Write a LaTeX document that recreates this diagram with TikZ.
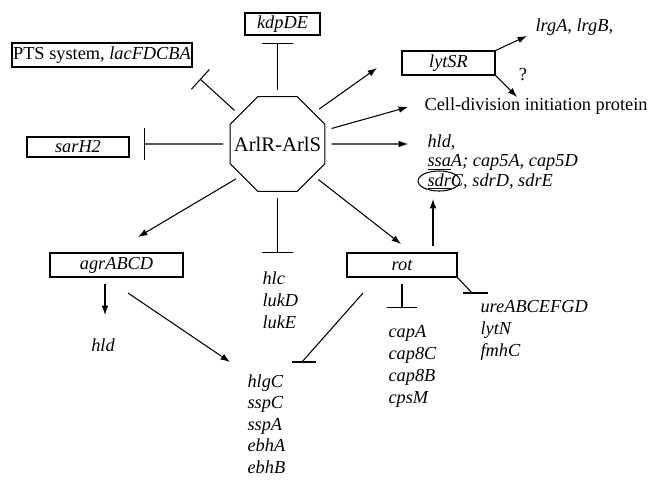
\documentclass[tikz,border=0pt]{standalone}
\usepackage{fontspec}
\setmainfont{Liberation Serif}
\usepackage{xcolor}
\definecolor{arlblack}{RGB}{0,0,0}
\usetikzlibrary{arrows.meta, shapes.geometric}

\begin{document}
\begin{tikzpicture}[x=0.75pt, y=-0.75pt, line width=0.8pt, arlblack,
    font=\fontsize{13.75}{16.5}\selectfont,
    genebox/.style={draw, inner sep=0pt, minimum height=18pt,
      font=\fontsize{13.75}{16.5}\selectfont\itshape},
    genelist/.style={anchor=west, align=left, inner sep=0pt,
      font=\fontsize{13.75}{16.5}\selectfont\itshape},
    act/.style={-{Latex[length=7pt,width=5pt]}},
    inhibit/.style={-{Bar[width=#1]}},
    inhibit/.default=23pt]
  \useasboundingbox (0,0) rectangle (648,479);

  % Central two-component system
  \node[draw, regular polygon, regular polygon sides=8, minimum size=77pt,
        inner sep=0pt, outer sep=5pt, font=\fontsize{15.5}{18}\selectfont]
        (arl) at (277.5,144) {\makebox[0pt][c]{ArlR-ArlS}};

  % Boxed targets
  \node[genebox, minimum width=56.25pt, minimum height=16.5pt] (kdp) at (282.5,24) {kdpDE};
  \node[draw, inner sep=0pt, minimum width=135pt, minimum height=18pt] (pts) at (102,55)
       {PTS system, \textit{lacFDCBA}};
  \node[genebox, minimum width=76.5pt, minimum height=15pt] (sar) at (78,147) {sarH2};
  \node[genebox, minimum width=69.75pt] (lyt) at (448.5,63) {lytSR};
  \node[genebox, minimum width=99.75pt] (agr) at (116.5,265) {agrABCD};
  \node[genebox, minimum width=82.5pt] (rot) at (402,265) {rot};

  % Gene lists
  \node[genelist] (lrg) at (535,27) {lrgA, lrgB,};
  \node[inner sep=0pt] (qm) at (523,75) {?};
  \node[anchor=west, inner sep=0pt] (cell) at (424,106) {Cell-division initiation protein};
  \node[genelist, font=\fontsize{13.75}{14.6}\selectfont\itshape] (hldr) at (427,162)
       {hld,\\ \underline{ssa}A; cap5A, cap5D\\ \underline{sdr}C, sdrD, sdrE};
  \node[draw, ellipse, minimum width=31.5pt, minimum height=15pt, inner sep=0pt]
       (sdrc) at (439,181) {};
  \node[genelist] (hlc) at (262,300) {hlc\\ lukD\\ lukE};
  \node[genelist, anchor=center] (hlda) at (103,345) {hld};
  \node[genelist, font=\fontsize{13.75}{16.2}\selectfont\itshape] (hlg) at (247,424)
       {hlgC\\ sspC\\ sspA\\ ebhA\\ ebhB};
  \node[genelist] (cap) at (388,366) {capA\\ cap8C\\ cap8B\\ cpsM};
  \node[genelist] (ure) at (480,330.5) {ureABCEFGD\\ lytN\\ fmhC};

  % Free ends
  \coordinate (kdpbar) at (277.5,43);
  \coordinate (ptsbar) at (200,79);
  \coordinate (sarbar) at (144,144);
  \coordinate (agrtip) at (138,237);
  \coordinate (hlcbar) at (277.5,253);
  \coordinate (rottip) at (401,244);
  \coordinate (hldtip) at (408,144);
  \coordinate (celltip) at (408,107);
  \coordinate (lyttip) at (377,68);
  \coordinate (lrgtip) at (527,36);
  \coordinate (qmtip) at (517,97);
  \coordinate (sdrtip) at (433,199);
  \coordinate (capbar) at (402,308);
  \coordinate (ureend) at (472,293);
  \coordinate (urebarl) at (463,293);
  \coordinate (urebarr) at (488,293);
  \coordinate (rotlow) at (363,293);
  \coordinate (hlgend) at (302,362);
  \coordinate (hlgbarl) at (292,362);
  \coordinate (hlgbarr) at (316,362);
  \coordinate (agrhld) at (105,284);
  \coordinate (hldtipa) at (105,315);
  \coordinate (agrhlg) at (128,293);
  \coordinate (hlgtip) at (230,362);

  % ArlR-ArlS regulation
  \draw[inhibit] (arl.90) -- (kdpbar);
  \draw[inhibit=20pt] (arl.142) -- (ptsbar);
  \draw[inhibit=24pt] (arl.180) -- (sarbar);
  \draw[act] (arl.220) -- (agrtip);
  \draw[inhibit] (arl.270) -- (hlcbar);
  \draw[act] (arl.319) -- (rottip);
  \draw[act] (arl.0) -- (hldtip);
  \draw[act] (arl.16) -- (celltip);
  \draw[act] (arl.40) -- (lyttip);

  % lytSR
  \draw[act] (lyt.north east) -- (lrgtip);
  \draw[act] (lyt.south east) -- (qmtip);

  % rot
  \draw[act] ([yshift=5pt]rot.north -| sdrtip) -- (sdrtip);
  \draw[inhibit] ([yshift=-5pt]rot.south) -- (capbar);
  \draw (rot.south east) -- (ureend);
  \draw (urebarl) -- (urebarr);
  \draw (rotlow) -- (hlgend);
  \draw (hlgbarl) -- (hlgbarr);

  % agrABCD
  \draw[act] (agrhld) -- (hldtipa);
  \draw[act] (agrhlg) -- (hlgtip);
\end{tikzpicture}
\end{document}
